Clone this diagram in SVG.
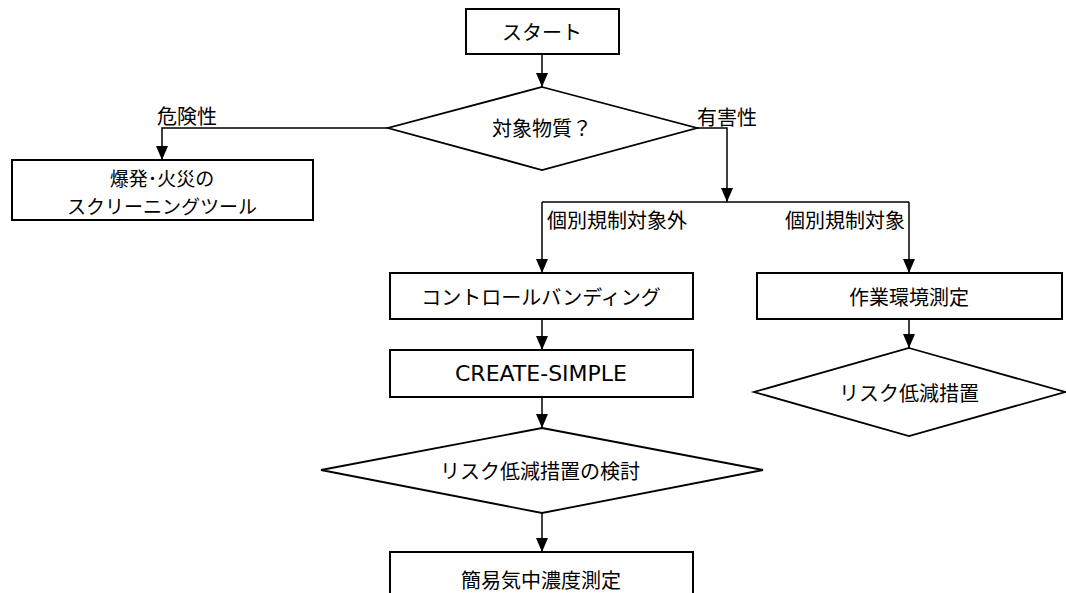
<svg xmlns="http://www.w3.org/2000/svg" width="1066" height="593" viewBox="0 0 1066 593">
  <style>
    .box { fill: #ffffff; stroke: #000000; stroke-width: 2; }
    .dia { fill: #ffffff; stroke: #000000; stroke-width: 1.8; }
    .line { fill: none; stroke: #000000; stroke-width: 1.5; }
    .t { font-family: "Noto Sans CJK JP", "DejaVu Sans", sans-serif; font-size: 20px; fill: #000000; dominant-baseline: central; }
    .c { text-anchor: middle; }
    .s19 { font-size: 19px; }
    .lat { font-family: "DejaVu Sans", "Noto Sans CJK JP", sans-serif; font-size: 22px; }
  </style>
  <defs>
    <marker id="arr" markerUnits="userSpaceOnUse" markerWidth="14" markerHeight="12" refX="14" refY="6" orient="auto">
      <path d="M0,0 L14,6 L0,12 z" fill="#000000"/>
    </marker>
  </defs>
  <rect width="1066" height="593" fill="#ffffff"/>

  <g id="connectors">
    <path class="line" d="M542,54 L542,87" marker-end="url(#arr)"/>
    <path class="line" d="M388,128 L162,128 L162,160" marker-end="url(#arr)"/>
    <path class="line" d="M697,128 L727,128 L727,202" marker-end="url(#arr)"/>
    <path class="line" d="M542,202 L909,202"/>
    <path class="line" d="M542,202 L542,273" marker-end="url(#arr)"/>
    <path class="line" d="M909,202 L909,273" marker-end="url(#arr)"/>
    <path class="line" d="M542,319 L542,350" marker-end="url(#arr)"/>
    <path class="line" d="M542,397 L542,428" marker-end="url(#arr)"/>
    <path class="line" d="M542,513 L542,552" marker-end="url(#arr)"/>
    <path class="line" d="M909,319 L909,348" marker-end="url(#arr)"/>
    <text class="t c" x="187" y="115">危険性</text>
    <text class="t c" x="727" y="116">有害性</text>
    <text class="t" x="547" y="219">個別規制対象外</text>
    <text class="t" x="905" y="219" text-anchor="end">個別規制対象</text>
  </g>

  <g id="start">
    <rect class="box" x="466" y="9" width="153" height="45"/>
    <text class="t c" x="542" y="31">スタート</text>
  </g>

  <g id="decision-substance">
    <polygon class="dia" points="542,87 697,128 542,170 388,128"/>
    <text class="t c" x="542" y="127">対象物質？</text>
  </g>

  <g id="screening-tool">
    <rect class="box" x="12" y="160" width="301" height="60"/>
    <text class="t c s19" x="162" y="177">爆発･火災の</text>
    <text class="t c s19" x="162" y="205">スクリーニングツール</text>
  </g>

  <g id="control-banding">
    <rect class="box" x="390" y="273" width="303" height="46"/>
    <text class="t c" x="541" y="296">コントロールバンディング</text>
  </g>

  <g id="create-simple">
    <rect class="box" x="390" y="350" width="303" height="47"/>
    <text class="t c lat" x="541" y="373">CREATE-SIMPLE</text>
  </g>

  <g id="risk-reduction-review">
    <polygon class="dia" points="542,428 763,470 542,513 321,470"/>
    <text class="t c" x="540" y="470">リスク低減措置の検討</text>
  </g>

  <g id="simple-measurement">
    <rect class="box" x="390" y="552" width="303" height="50"/>
    <text class="t c" x="541" y="579">簡易気中濃度測定</text>
  </g>

  <g id="work-env-measurement">
    <rect class="box" x="757" y="273" width="305" height="46"/>
    <text class="t c" x="909" y="296">作業環境測定</text>
  </g>

  <g id="risk-reduction">
    <polygon class="dia" points="909,348 1065,392 909,436 754,392"/>
    <text class="t c" x="909" y="392">リスク低減措置</text>
  </g>
</svg>
